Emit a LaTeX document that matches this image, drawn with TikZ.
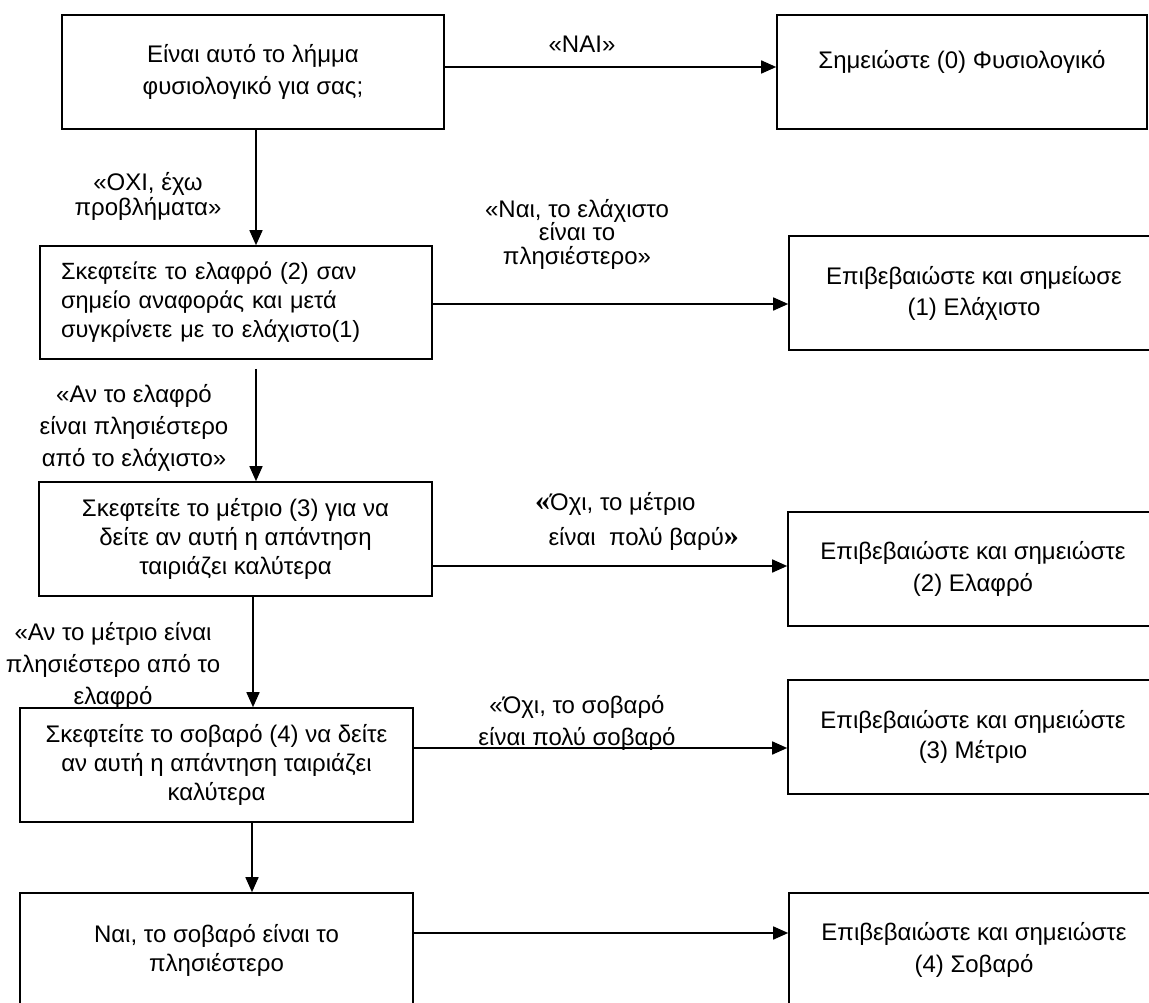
\documentclass[tikz,border=0pt]{standalone}
\usepackage{fontspec}
\setmainfont{Liberation Sans}
\newfontfamily\gqfont{Liberation Serif}
\usetikzlibrary{arrows.meta}
\newcommand\bigguil[1]{{\gqfont\bfseries\fontsize{30}{35}\selectfont #1}}
\begin{document}
\begin{tikzpicture}[x=1pt,y=-1pt]
\tikzset{
  box/.style={draw=black, line width=1.6pt, fill=white, rectangle, minimum height=114pt, inner sep=4pt, align=center, font=\fontsize{24}{31}\selectfont},
  lbl/.style={align=center, inner sep=0pt, font=\fontsize{24}{32}\selectfont},
  boxtext/.style={inner sep=0pt, font=\fontsize{24}{31}\selectfont},
  arr/.style={line width=1.6pt, -{Triangle[length=15pt,width=13pt]}}
}
\clip (0,0) rectangle (1149,1003);
\fill[white] (0,0) rectangle (1149,1003);

% labels
\node[lbl] (lnai) at (582,44) {«ΝΑΙ»};
\node[lbl, font=\fontsize{24}{25}\selectfont] (loxi) at (148,196) {«ΟΧΙ, έχω\\προβλήματα»};
\node[lbl, font=\fontsize{24}{23.5}\selectfont] (lnai2) at (577,234) {«Ναι, το ελάχιστο\\είναι το\\πλησιέστερο»};
\node[lbl] (lav1) at (134,428) {«Αν το ελαφρό\\είναι πλησιέστερο\\από το ελάχιστο»};
\node[lbl, align=left, anchor=west, font=\fontsize{24}{35}\selectfont] (loxi2) at (535,521) {\bigguil{«}Όχι, το μέτριο\\\ \ είναι\ \ πολύ βαρύ\bigguil{»}};
\node[lbl, font=\fontsize{24}{32}\selectfont] (lav2) at (113,666) {«Αν το μέτριο είναι\\πλησιέστερο από το\\ελαφρό};
\node[lbl] (loxi3) at (577,723) {«Όχι, το σοβαρό\\είναι πολύ σοβαρό};

% left column
\node[box, minimum width=382pt, font=\fontsize{24}{32}\selectfont] (b1) at (253,72) {Είναι αυτό το λήμμα\\φυσιολογικό για σας;};
\node[box, minimum width=392pt, minimum height=113pt, inner xsep=21pt, text width=350pt, align=left, font=\fontsize{23.5}{29}\selectfont] (b2) at (236,302.5) {Σκεφτείτε το ελαφρό (2) σαν\\σημείο αναφοράς και μετά\\συγκρίνετε με το ελάχιστο(1)};
\node[box, minimum width=393pt, font=\fontsize{24}{29}\selectfont] (b3) at (235.5,539) {Σκεφτείτε το μέτριο (3) για να\\δείτε αν αυτή η απάντηση\\ταιριάζει καλύτερα};
\node[box, minimum width=393pt, font=\fontsize{24}{29}\selectfont] (b4) at (216.5,765) {Σκεφτείτε το σοβαρό (4) να δείτε\\αν αυτή η απάντηση ταιριάζει\\καλύτερα};
\node[box, minimum width=393pt, font=\fontsize{24}{29}\selectfont] (b5) at (216.5,950) {Ναι, το σοβαρό είναι το\\πλησιέστερο};

% right column
\node[box, minimum width=370pt] (r0) at (962,72) {};
\node[boxtext] (r0t) at (962,62) {Σημειώστε (0) Φυσιολογικό};
\node[box, minimum width=370pt] (r1) at (974,293) {Επιβεβαιώστε και σημείωσε\\(1) Ελάχιστο};
\node[box, minimum width=370pt, font=\fontsize{24}{32}\selectfont] (r2) at (973,569) {Επιβεβαιώστε και σημειώστε\\(2) Ελαφρό};
\node[box, minimum width=370pt, font=\fontsize{24}{30}\selectfont] (r3) at (973,737) {Επιβεβαιώστε και σημειώστε\\(3) Μέτριο};
\node[box, minimum width=370pt, font=\fontsize{24}{32}\selectfont] (r4) at (974,950) {Επιβεβαιώστε και σημειώστε\\(4) Σοβαρό};

% arrow guide coordinates
\coordinate (v1) at (256,0);
\coordinate (v3) at (253,0);
\coordinate (v4) at (252,0);
\coordinate (h0) at (0,67);
\coordinate (h1) at (0,304);
\coordinate (h2) at (0,566);
\coordinate (h3) at (0,748);
\coordinate (h4) at (0,933);
\coordinate (b2s) at ([yshift=-9pt]b2.south);

% vertical arrows
\draw[arr] (b1.south -| v1) -- (b2.north -| v1);
\draw[arr] (b2s -| v1) -- (b3.north -| v1);
\draw[arr] (b3.south -| v3) -- (b4.north -| v3);
\draw[arr] (b4.south -| v4) -- (b5.north -| v4);

% horizontal arrows
\draw[arr] (b1.east |- h0) -- (r0.west |- h0);
\draw[arr] (b2.east |- h1) -- (r1.west |- h1);
\draw[arr] (b3.east |- h2) -- (r2.west |- h2);
\draw[arr] (b4.east |- h3) -- (r3.west |- h3);
\draw[arr] (b5.east |- h4) -- (r4.west |- h4);
\end{tikzpicture}
\end{document}
